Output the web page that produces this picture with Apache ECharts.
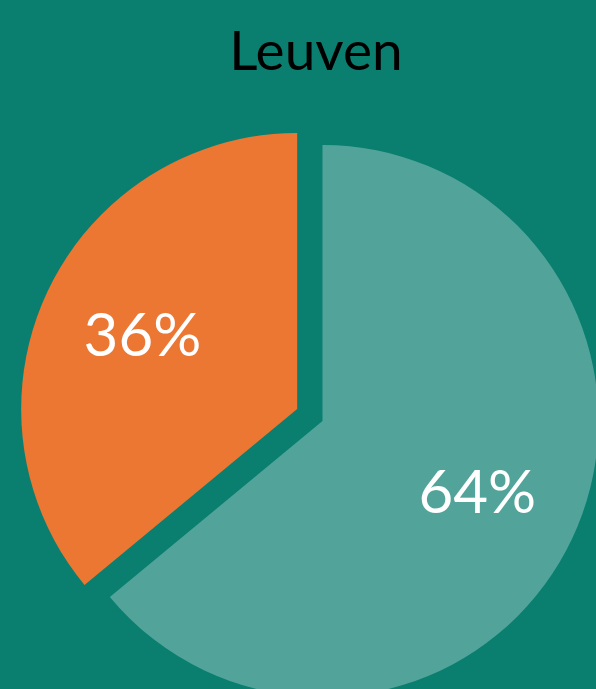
<!DOCTYPE html>
<html>
<head>
<meta charset="utf-8">
<script src="https://cdn.jsdelivr.net/npm/echarts@6/dist/echarts.min.js"></script>
<style>
  html, body { margin: 0; padding: 0; background: #0a7f70; }
  #chart { width: 596px; height: 689px; }
</style>
</head>
<body>
<div id="chart"></div>
<script>
const categories = ['Other', 'Leuven'];
const values = [64, 36];
const sliceColors = ['#52a49b', '#eb7733'];
const explodedSlice = [false, true];

const chart = echarts.init(document.getElementById('chart'));

function buildData(withColor) {
  return categories.map((name, i) => ({
    name: name,
    value: values[i],
    selected: explodedSlice[i],
    itemStyle: { color: withColor ? sliceColors[i] : 'rgba(0,0,0,0)' },
  }));
}

const pieBase = {
  type: 'pie',
  center: [322.5, 421],
  startAngle: 90,
  clockwise: true,
  selectedMode: 'multiple',
  selectedOffset: 28,
  animation: false,
  emphasis: { disabled: true },
  labelLine: { show: false },
};

chart.setOption({
  backgroundColor: '#0a7f70',
  title: {
    text: 'Leuven',
    left: 311,
    textAlign: 'center',
    top: 20,
    textStyle: {
      fontFamily: 'Lato',
      fontWeight: 'normal',
      fontSize: 55,
      color: '#000000',
    },
  },
  series: [
    {
      ...pieBase,
      radius: [0, 276],
      label: { show: false },
      data: buildData(true),
    },
    {
      // transparent ring used only to place the labels further out
      ...pieBase,
      radius: [60, 276],
      silent: true,
      label: {
        show: true,
        position: 'inside',
        formatter: '{d}%',
        color: '#ffffff',
        fontFamily: 'Lato',
        fontWeight: 'normal',
        fontSize: 60,
      },
      data: buildData(false),
    },
  ],
});
</script>
</body>
</html>
